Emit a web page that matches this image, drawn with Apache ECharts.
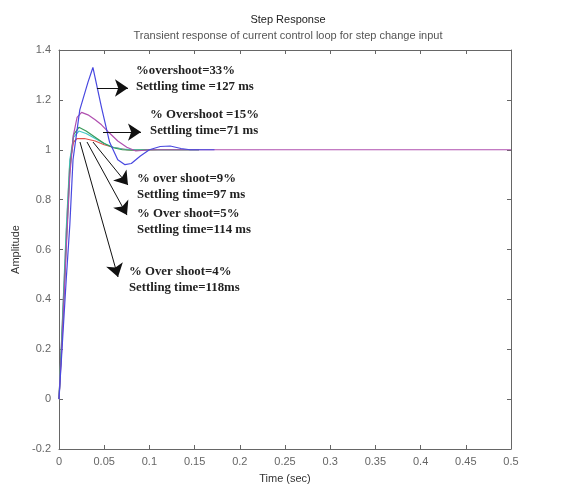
<!DOCTYPE html>
<html>
<head>
<meta charset="utf-8">
<script src="https://cdn.jsdelivr.net/npm/echarts@6/dist/echarts.min.js"></script>
<style>
html,body{margin:0;padding:0;background:#fff;}
#chart{width:568px;height:491px;}
</style>
</head>
<body>
<div id="chart"></div>
<script>
// ---- data ----
var xTicks = [0, 0.05, 0.1, 0.15, 0.2, 0.25, 0.3, 0.35, 0.4, 0.45, 0.5];
var yTicks = [-0.2, 0, 0.2, 0.4, 0.6, 0.8, 1, 1.2, 1.4];

var blueT = [0, 0.003, 0.008, 0.012, 0.0155, 0.023, 0.032, 0.0375, 0.047, 0.056, 0.065, 0.073, 0.08, 0.09, 0.1, 0.112, 0.123, 0.135, 0.145, 0.172];
var blueY = [0, 0.18, 0.48, 0.7, 0.96, 1.16, 1.27, 1.33, 1.17, 1.03, 0.96, 0.94, 0.945, 0.975, 1.0, 1.013, 1.015, 1.005, 1.0, 1.0];

var magentaT = [0, 0.003, 0.008, 0.012, 0.016, 0.02, 0.025, 0.032, 0.04, 0.047, 0.055, 0.065, 0.075, 0.085, 0.1, 0.12, 0.5];
var magentaY = [0, 0.2, 0.6, 0.9, 1.06, 1.13, 1.15, 1.14, 1.12, 1.1, 1.07, 1.035, 1.01, 0.995, 1.0, 1.0, 1.0];

var greenT = [0, 0.003, 0.008, 0.012, 0.016, 0.022, 0.03, 0.04, 0.05, 0.06, 0.07, 0.08, 0.1, 0.12, 0.155];
var greenY = [0, 0.22, 0.62, 0.92, 1.06, 1.09, 1.075, 1.05, 1.025, 1.008, 1.0, 0.998, 1.0, 1.0, 1.0];

var cyanT = [0, 0.003, 0.008, 0.012, 0.016, 0.022, 0.03, 0.04, 0.05, 0.06, 0.07, 0.085, 0.1, 0.13, 0.155];
var cyanY = [0, 0.25, 0.68, 0.96, 1.05, 1.075, 1.065, 1.045, 1.025, 1.01, 1.003, 1.0, 1.0, 1.0, 1.0];

var redT = [0, 0.003, 0.008, 0.012, 0.016, 0.02, 0.028, 0.04, 0.05, 0.06, 0.075, 0.09, 0.11, 0.13, 0.155];
var redY = [0, 0.24, 0.66, 0.95, 1.03, 1.045, 1.045, 1.035, 1.02, 1.01, 1.0, 0.998, 1.0, 1.0, 1.0];

// annotations: text, anchor [t, amplitude] (left edge / vertical centre)
var noteTexts = [
  "%overshoot=33%\nSettling time =127 ms",
  "% Overshoot =15%\nSettling time=71 ms",
  "% over shoot=9%\nSettling time=97 ms",
  "% Over shoot=5%\nSettling time=114 ms",
  "% Over shoot=4%\nSettling time=118ms"
];
var noteAnchors = [[0.0852, 1.286], [0.1007, 1.107], [0.0863, 0.853], [0.0863, 0.712], [0.0774, 0.480]];
// arrows: from -> to, in [t, amplitude]
var arrowFrom = [[0.042, 1.2475], [0.0487, 1.071], [0.0376, 1.031], [0.031, 1.031], [0.0232, 1.031]];
var arrowTo   = [[0.0763, 1.2475], [0.0907, 1.071], [0.0763, 0.8585], [0.0752, 0.738], [0.0653, 0.4897]];

function pairs(t, y) { return t.map(function (v, i) { return [v, y[i]]; }); }

var chart = echarts.init(document.getElementById('chart'), null, {renderer: 'canvas'});

var axisCommon = {
  type: 'value', min: 0, max: 0.5, interval: 0.05,
  axisLine: {show: true, onZero: false, lineStyle: {color: '#666', width: 1}},
  axisTick: {show: true, inside: true, length: 4, lineStyle: {color: '#666'}},
  splitLine: {show: false}
};
var yCommon = {
  type: 'value', min: -0.2, max: 1.4, interval: 0.2,
  axisLine: {show: true, onZero: false, lineStyle: {color: '#666', width: 1}},
  axisTick: {show: true, inside: true, length: 4, lineStyle: {color: '#666'}},
  splitLine: {show: false}
};

function lineSeries(name, t, y, color) {
  return {
    name: name, type: 'line', data: pairs(t, y), showSymbol: false, symbol: 'none',
    lineStyle: {color: color, width: 1.2}, z: 3, silent: true
  };
}

var series = [
  lineSeries('red', redT, redY, '#e0504a'),
  lineSeries('cyan', cyanT, cyanY, '#40c8c8'),
  lineSeries('green', greenT, greenY, '#3a9a5a'),
  lineSeries('magenta', magentaT, magentaY, '#b050b0'),
  lineSeries('blue', blueT, blueY, '#4848e0')
];

series[4].markPoint = {
  silent: true,
  symbol: 'circle', symbolSize: 0,
  itemStyle: {color: 'rgba(0,0,0,0)'},
  label: {
    show: true, position: 'right', distance: 0,
    fontFamily: 'Liberation Serif', fontSize: 12.8, fontWeight: 'bold',
    color: '#222', lineHeight: 16, align: 'left'
  },
  data: noteTexts.map(function (txt, i) {
    return {coord: noteAnchors[i], value: 0, label: {formatter: txt}};
  })
};
series[4].markLine = {
  silent: true, animation: false,
  symbol: ['none', 'arrow'], symbolSize: 13,
  lineStyle: {color: '#111', width: 1, type: 'solid'},
  label: {show: false},
  data: arrowFrom.map(function (f, i) {
    return [{coord: f}, {coord: arrowTo[i]}];
  })
};

chart.setOption({
  animation: false,
  backgroundColor: '#fff',
  title: [
    {text: 'Step Response', left: 283, top: 9, textAlign: 'center',
     textStyle: {fontFamily: 'Liberation Sans', fontSize: 11, fontWeight: 'normal', color: '#222'}},
    {text: 'Transient response of current control loop for step change input', left: 283, top: 25, textAlign: 'center',
     textStyle: {fontFamily: 'Liberation Sans', fontSize: 11, fontWeight: 'normal', color: '#555'}}
  ],
  grid: {left: 59, right: 57, top: 50, bottom: 42, containLabel: false},
  xAxis: [
    Object.assign({}, axisCommon, {
      position: 'bottom',
      name: 'Time (sec)', nameLocation: 'middle', nameGap: 24,
      nameTextStyle: {fontFamily: 'Liberation Sans', fontSize: 11, color: '#333'},
      axisLabel: {fontFamily: 'Liberation Sans', fontSize: 11, color: '#666', margin: 7,
        formatter: function (v) { return xTicks.indexOf(+v.toFixed(3)) >= 0 ? String(+v.toFixed(3)) : ''; }}
    }),
    Object.assign({}, axisCommon, {position: 'top', axisLabel: {show: false}})
  ],
  yAxis: [
    Object.assign({}, yCommon, {
      position: 'left',
      name: 'Amplitude', nameLocation: 'middle', nameGap: 37,
      nameTextStyle: {fontFamily: 'Liberation Sans', fontSize: 11, color: '#333'},
      axisLabel: {fontFamily: 'Liberation Sans', fontSize: 11, color: '#666', margin: 8,
        formatter: function (v) { return yTicks.indexOf(+v.toFixed(2)) >= 0 ? String(+v.toFixed(2)) : ''; }}
    }),
    Object.assign({}, yCommon, {position: 'right', axisLabel: {show: false}})
  ],
  series: series
});
</script>
</body>
</html>
